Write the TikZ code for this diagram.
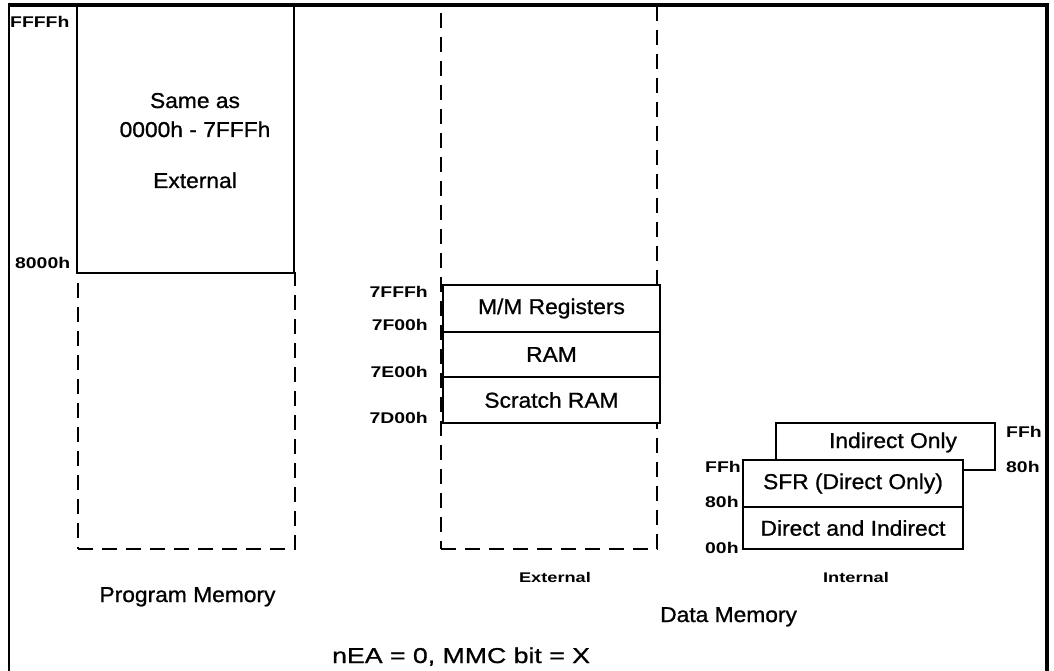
\documentclass[tikz,border=0pt]{standalone}
\usepackage{fontspec}
\setmainfont{Liberation Sans}
\newfontfamily\bigfont[FakeStretch=1.06,FakeBold=0.9]{Liberation Sans}
\newfontfamily\wideline[FakeStretch=1.24,FakeBold=0.9]{Liberation Sans}
\newfontfamily\addrfont[FakeStretch=1.25]{Liberation Sans}
\newfontfamily\tagfont[FakeStretch=1.3]{Liberation Sans}
\begin{document}
\begin{tikzpicture}[x=1pt,y=-1pt,
  solidbox/.style={draw, line width=2.4pt, fill=white, inner sep=0pt, outer sep=0pt,
    anchor=north west, font=\bigfont\fontsize{21.5}{25}\selectfont},
  dashbox/.style={draw, line width=1.4pt, dash pattern=on 15pt off 9pt,
    inner sep=0pt, outer sep=0pt, anchor=north west},
  big/.style={font=\bigfont\fontsize{21.5}{25}\selectfont, inner sep=0pt},
  addr/.style={font=\addrfont\bfseries\fontsize{15.5}{17}\selectfont, inner sep=0pt},
  tag/.style={font=\tagfont\bfseries\fontsize{14}{16}\selectfont, inner sep=0pt}]
\useasboundingbox (0,0) rectangle (1054,671);

% unused upper ranges (dashed)
\node[dashbox, minimum width=217pt, minimum height=276pt] (progrest) at (78,273) {};
\node[dashbox, minimum width=216pt, minimum height=544pt] (extspace) at (441,5) {};

% program memory, upper half
\node[solidbox, minimum width=217pt, minimum height=268pt] (progup) at (77,5) {};
\node[big, anchor=base] (same) at (195,108) {Same as};
\node[big, anchor=base] (range) at (195,137) {0000h - 7FFFh};
\node[big, anchor=base] (progext) at (195,188) {External};

% external data memory stack
\node[solidbox, minimum width=217pt, minimum height=47pt] (mmr) at (443,285) {M/M Registers};
\node[solidbox, minimum width=217pt, minimum height=45pt] (ram) at (443,332) {RAM};
\node[solidbox, minimum width=217pt, minimum height=46pt] (scratch) at (443,377) {Scratch RAM};

% internal data memory
\node[solidbox, minimum width=219pt, minimum height=47pt] (indirect) at (776,423) {};
\node[big, anchor=base] (indtext) at (893,448) {Indirect Only};
\node[solidbox, minimum width=220pt, minimum height=47pt] (sfr) at (743,460) {SFR (Direct Only)};
\node[solidbox, minimum width=220pt, minimum height=42pt] (dai) at (743,507) {Direct and Indirect};

% outer frame
\draw[line width=4pt] (9,5) -- (1047,5);
\draw[line width=2.6pt] (9,3) -- (9,671);
\draw[line width=3.6pt] (1047,3) -- (1047,671);

% address labels
\node[addr, anchor=base west] (aFFFF) at (10,28) {FFFFh};
\node[addr, anchor=base west] (a8000) at (15,268) {8000h};
\node[addr, anchor=base east] (a7FFF) at (428,297) {7FFFh};
\node[addr, anchor=base east] (a7F00) at (428,330) {7F00h};
\node[addr, anchor=base east] (a7E00) at (428,377) {7E00h};
\node[addr, anchor=base east] (a7D00) at (428,423) {7D00h};
\node[addr, anchor=base west] (iFF) at (705,472) {FFh};
\node[addr, anchor=base west] (i80) at (705,507) {80h};
\node[addr, anchor=base west] (i00) at (705,553) {00h};
\node[addr, anchor=base west] (uFF) at (1006,437) {FFh};
\node[addr, anchor=base west] (u80) at (1006,472) {80h};

% captions
\node[tag, anchor=base] (capext) at (555,582) {External};
\node[tag, anchor=base] (capint) at (856,582) {Internal};
\node[big, anchor=base] (progmem) at (187.5,602) {Program Memory};
\node[big, anchor=base west] (datamem) at (660,622) {Data Memory};
\node[font=\wideline\fontsize{21.5}{25}\selectfont, inner sep=0pt, anchor=base west] (mode) at (332,663) {nEA = 0, MMC bit = X};
\end{tikzpicture}
\end{document}
